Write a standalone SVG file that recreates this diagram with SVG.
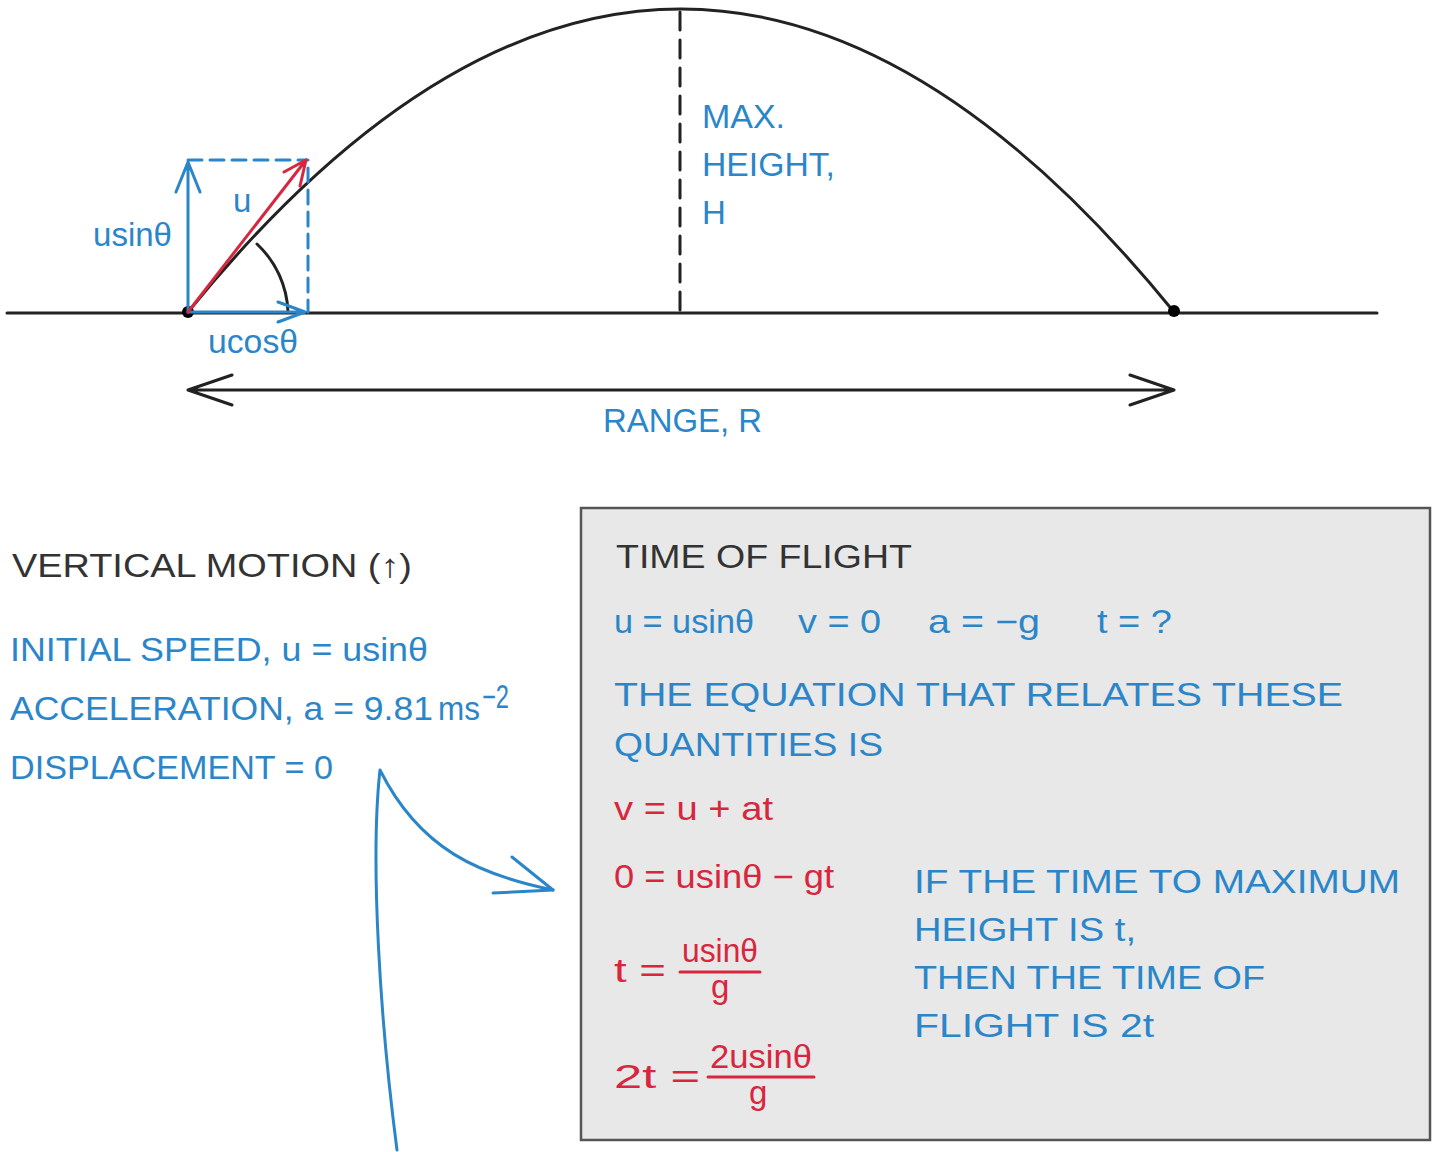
<svg xmlns="http://www.w3.org/2000/svg" width="1440" height="1152" viewBox="0 0 1440 1152">
<style>
text{font-family:"Liberation Sans","DejaVu Sans",sans-serif;font-size:33px}
.b{fill:#2b86c9}.r{fill:#d8263e}.k{fill:#333}
.ln{fill:none;stroke:#222;stroke-width:3;stroke-linecap:round;stroke-linejoin:round}
.bl{fill:none;stroke:#2b86c9;stroke-width:3;stroke-linecap:round;stroke-linejoin:round}
.rl{fill:none;stroke:#d8263e;stroke-width:3;stroke-linecap:round;stroke-linejoin:round}
</style>
<rect width="1440" height="1152" fill="#fff"/>
<g id="projectile">
<line class="ln" x1="7" y1="313" x2="1377" y2="313"/>
<path class="ln" d="M188,312 Q681,-294 1174,312"/>
<line class="ln" x1="680" y1="12" x2="680" y2="312" stroke-dasharray="18,10"/>
<path class="ln" d="M257,244 A98,98 0 0 1 288,312"/>
<circle cx="188" cy="312" r="6" fill="#000"/>
<circle cx="1174" cy="311" r="6" fill="#000"/>
<line class="bl" x1="188" y1="160" x2="308" y2="160" stroke-dasharray="14,8"/>
<line class="bl" x1="308" y1="168" x2="308" y2="312" stroke-dasharray="14,8"/>
<path class="bl" d="M188,312 V162 M176,192 L188,162 L200,192"/>
<path class="bl" d="M188,312 H305 M278,302 L305,312 L278,322"/>
<path class="rl" d="M188,312 L306,160 M284,172 L306,160 L300,186"/>
<text class="b" x="233" y="212">u</text>
<text class="b" x="93" y="246" textLength="79" lengthAdjust="spacingAndGlyphs">usinθ</text>
<text class="b" x="208" y="353" textLength="90" lengthAdjust="spacingAndGlyphs">ucosθ</text>
<text class="b" x="702" y="128" textLength="83" lengthAdjust="spacingAndGlyphs">MAX.</text>
<text class="b" x="702" y="176" textLength="133" lengthAdjust="spacingAndGlyphs">HEIGHT,</text>
<text class="b" x="702" y="224">H</text>
</g>
<g id="range">
<path class="ln" d="M188,390 H1174 M232,375 L188,390 L232,405 M1130,375 L1174,390 L1130,405" stroke-width="2.5"/>
<text class="b" x="603" y="432" textLength="159" lengthAdjust="spacingAndGlyphs">RANGE, R</text>
</g>
<g id="vertical-motion">
<text class="k" x="12" y="577" textLength="400" lengthAdjust="spacingAndGlyphs">VERTICAL  MOTION  (↑)</text>
<text class="b" x="10" y="661" textLength="418" lengthAdjust="spacingAndGlyphs">INITIAL  SPEED,  u = usinθ</text>
<text class="b" x="10" y="720" textLength="423" lengthAdjust="spacingAndGlyphs">ACCELERATION,  a = 9.81</text>
<text class="b" x="438" y="720" font-size="26" textLength="42" lengthAdjust="spacingAndGlyphs">ms</text>
<text class="b" x="482" y="708" font-size="20" textLength="27" lengthAdjust="spacingAndGlyphs">−2</text>
<text class="b" x="10" y="779" textLength="323" lengthAdjust="spacingAndGlyphs">DISPLACEMENT = 0</text>
</g>
<g id="connectors">
<path class="bl" d="M397,1150 C380,1020 370,860 380,770 C420,850 480,875 553,890"/>
<path class="bl" d="M512,857 L553,890 L493,893"/>
</g>
<g id="time-of-flight">
<rect x="581" y="508" width="849" height="632" fill="#e8e8e8" stroke="#555" stroke-width="2.5"/>
<text class="k" x="616" y="568" textLength="296" lengthAdjust="spacingAndGlyphs">TIME  OF  FLIGHT</text>
<text class="b" x="614" y="633" textLength="140" lengthAdjust="spacingAndGlyphs">u = usinθ</text>
<text class="b" x="798" y="633" textLength="83" lengthAdjust="spacingAndGlyphs">v = 0</text>
<text class="b" x="928" y="633" textLength="112" lengthAdjust="spacingAndGlyphs">a = −g</text>
<text class="b" x="1097" y="633" textLength="75" lengthAdjust="spacingAndGlyphs">t = ?</text>
<text class="b" x="614" y="706" textLength="729" lengthAdjust="spacingAndGlyphs">THE  EQUATION  THAT  RELATES  THESE</text>
<text class="b" x="614" y="756" textLength="269" lengthAdjust="spacingAndGlyphs">QUANTITIES  IS</text>
<text class="r" x="614" y="820" textLength="159" lengthAdjust="spacingAndGlyphs">v = u + at</text>
<text class="r" x="614" y="888" textLength="220" lengthAdjust="spacingAndGlyphs">0 = usinθ − gt</text>
<text class="r" x="614" y="982" textLength="52" lengthAdjust="spacingAndGlyphs">t =</text>
<text class="r" x="682" y="962" textLength="76" lengthAdjust="spacingAndGlyphs">usinθ</text>
<line class="rl" x1="680" y1="972" x2="760" y2="972"/>
<text class="r" x="711" y="998">g</text>
<text class="r" x="614" y="1088" textLength="86" lengthAdjust="spacingAndGlyphs">2t =</text>
<text class="r" x="710" y="1068" textLength="102" lengthAdjust="spacingAndGlyphs">2usinθ</text>
<line class="rl" x1="708" y1="1077" x2="814" y2="1077"/>
<text class="r" x="749" y="1104">g</text>
<text class="b" x="914" y="893" textLength="486" lengthAdjust="spacingAndGlyphs">IF  THE  TIME  TO  MAXIMUM</text>
<text class="b" x="914" y="941" textLength="222" lengthAdjust="spacingAndGlyphs">HEIGHT  IS  t,</text>
<text class="b" x="914" y="989" textLength="351" lengthAdjust="spacingAndGlyphs">THEN  THE  TIME  OF</text>
<text class="b" x="914" y="1037" textLength="240" lengthAdjust="spacingAndGlyphs">FLIGHT  IS  2t</text>
</g>
</svg>
